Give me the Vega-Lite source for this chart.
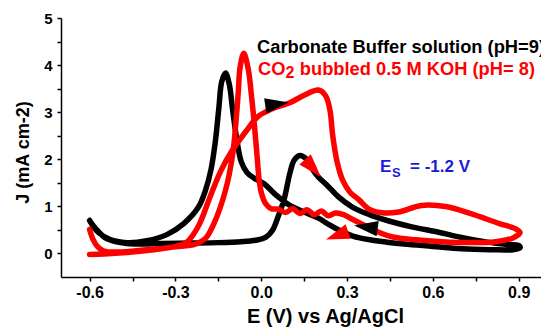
{
  "$schema": "https://vega.github.io/schema/vega-lite/v6.json",
  "width": 480,
  "height": 259,
  "autosize": {"type": "none"},
  "padding": {"left": 61, "top": 18, "right": 0, "bottom": 50},
  "background": "white",
  "config": {
    "view": {"stroke": null},
    "font": "Liberation Sans",
    "axis": {
      "grid": false,
      "domainColor": "black",
      "domainWidth": 1.5,
      "tickColor": "black",
      "tickWidth": 1.5,
      "tickSize": 4,
      "labelFont": "Liberation Sans",
      "labelFontWeight": "bold",
      "labelColor": "black",
      "titleFont": "Liberation Sans",
      "titleFontWeight": "bold",
      "titleColor": "black"
    }
  },
  "datasets": {
    "cv": [
      {"s": "Carbonate", "o": 1, "E": -0.600, "J": 0.70},
      {"s": "Carbonate", "o": 2, "E": -0.575, "J": 0.50},
      {"s": "Carbonate", "o": 3, "E": -0.545, "J": 0.33},
      {"s": "Carbonate", "o": 4, "E": -0.510, "J": 0.25},
      {"s": "Carbonate", "o": 5, "E": -0.470, "J": 0.21},
      {"s": "Carbonate", "o": 6, "E": -0.420, "J": 0.20},
      {"s": "Carbonate", "o": 7, "E": -0.350, "J": 0.21},
      {"s": "Carbonate", "o": 8, "E": -0.250, "J": 0.22},
      {"s": "Carbonate", "o": 9, "E": -0.150, "J": 0.23},
      {"s": "Carbonate", "o": 10, "E": -0.070, "J": 0.25},
      {"s": "Carbonate", "o": 11, "E": -0.020, "J": 0.28},
      {"s": "Carbonate", "o": 12, "E": 0.015, "J": 0.34},
      {"s": "Carbonate", "o": 13, "E": 0.040, "J": 0.50},
      {"s": "Carbonate", "o": 14, "E": 0.060, "J": 0.80},
      {"s": "Carbonate", "o": 15, "E": 0.080, "J": 1.15},
      {"s": "Carbonate", "o": 16, "E": 0.100, "J": 1.70},
      {"s": "Carbonate", "o": 17, "E": 0.115, "J": 1.98},
      {"s": "Carbonate", "o": 18, "E": 0.135, "J": 2.08},
      {"s": "Carbonate", "o": 19, "E": 0.155, "J": 2.02},
      {"s": "Carbonate", "o": 20, "E": 0.175, "J": 1.82},
      {"s": "Carbonate", "o": 21, "E": 0.200, "J": 1.62},
      {"s": "Carbonate", "o": 22, "E": 0.230, "J": 1.45},
      {"s": "Carbonate", "o": 23, "E": 0.270, "J": 1.20},
      {"s": "Carbonate", "o": 24, "E": 0.320, "J": 0.98},
      {"s": "Carbonate", "o": 25, "E": 0.380, "J": 0.82},
      {"s": "Carbonate", "o": 26, "E": 0.440, "J": 0.70},
      {"s": "Carbonate", "o": 27, "E": 0.530, "J": 0.56},
      {"s": "Carbonate", "o": 28, "E": 0.620, "J": 0.45},
      {"s": "Carbonate", "o": 29, "E": 0.700, "J": 0.34},
      {"s": "Carbonate", "o": 30, "E": 0.790, "J": 0.24},
      {"s": "Carbonate", "o": 31, "E": 0.860, "J": 0.19},
      {"s": "Carbonate", "o": 32, "E": 0.900, "J": 0.17},
      {"s": "Carbonate", "o": 33, "E": 0.905, "J": 0.12},
      {"s": "Carbonate", "o": 34, "E": 0.880, "J": 0.08},
      {"s": "Carbonate", "o": 35, "E": 0.800, "J": 0.08},
      {"s": "Carbonate", "o": 36, "E": 0.700, "J": 0.10},
      {"s": "Carbonate", "o": 37, "E": 0.600, "J": 0.15},
      {"s": "Carbonate", "o": 38, "E": 0.500, "J": 0.20},
      {"s": "Carbonate", "o": 39, "E": 0.440, "J": 0.24},
      {"s": "Carbonate", "o": 40, "E": 0.380, "J": 0.29},
      {"s": "Carbonate", "o": 41, "E": 0.320, "J": 0.37},
      {"s": "Carbonate", "o": 42, "E": 0.280, "J": 0.47},
      {"s": "Carbonate", "o": 43, "E": 0.240, "J": 0.60},
      {"s": "Carbonate", "o": 44, "E": 0.200, "J": 0.75},
      {"s": "Carbonate", "o": 45, "E": 0.150, "J": 0.88},
      {"s": "Carbonate", "o": 46, "E": 0.100, "J": 1.02},
      {"s": "Carbonate", "o": 47, "E": 0.050, "J": 1.25},
      {"s": "Carbonate", "o": 48, "E": 0.010, "J": 1.48},
      {"s": "Carbonate", "o": 49, "E": -0.025, "J": 1.60},
      {"s": "Carbonate", "o": 50, "E": -0.050, "J": 1.72},
      {"s": "Carbonate", "o": 51, "E": -0.070, "J": 1.95},
      {"s": "Carbonate", "o": 52, "E": -0.085, "J": 2.40},
      {"s": "Carbonate", "o": 53, "E": -0.100, "J": 3.05},
      {"s": "Carbonate", "o": 54, "E": -0.112, "J": 3.60},
      {"s": "Carbonate", "o": 55, "E": -0.125, "J": 3.83},
      {"s": "Carbonate", "o": 56, "E": -0.138, "J": 3.65},
      {"s": "Carbonate", "o": 57, "E": -0.148, "J": 3.10},
      {"s": "Carbonate", "o": 58, "E": -0.160, "J": 2.40},
      {"s": "Carbonate", "o": 59, "E": -0.175, "J": 1.80},
      {"s": "Carbonate", "o": 60, "E": -0.195, "J": 1.34},
      {"s": "Carbonate", "o": 61, "E": -0.220, "J": 0.98},
      {"s": "Carbonate", "o": 62, "E": -0.270, "J": 0.64},
      {"s": "Carbonate", "o": 63, "E": -0.330, "J": 0.40},
      {"s": "Carbonate", "o": 64, "E": -0.400, "J": 0.27},
      {"s": "Carbonate", "o": 65, "E": -0.470, "J": 0.23},
      {"s": "Carbonate", "o": 66, "E": -0.530, "J": 0.30},
      {"s": "Carbonate", "o": 67, "E": -0.570, "J": 0.45},
      {"s": "Carbonate", "o": 68, "E": -0.600, "J": 0.70},
      {"s": "CO2", "o": 1, "E": -0.600, "J": -0.02},
      {"s": "CO2", "o": 2, "E": -0.550, "J": -0.01},
      {"s": "CO2", "o": 3, "E": -0.470, "J": 0.02},
      {"s": "CO2", "o": 4, "E": -0.400, "J": 0.06},
      {"s": "CO2", "o": 5, "E": -0.350, "J": 0.10},
      {"s": "CO2", "o": 6, "E": -0.300, "J": 0.15},
      {"s": "CO2", "o": 7, "E": -0.265, "J": 0.22},
      {"s": "CO2", "o": 8, "E": -0.240, "J": 0.38},
      {"s": "CO2", "o": 9, "E": -0.214, "J": 0.65},
      {"s": "CO2", "o": 10, "E": -0.179, "J": 1.20},
      {"s": "CO2", "o": 11, "E": -0.140, "J": 1.77},
      {"s": "CO2", "o": 12, "E": -0.100, "J": 2.20},
      {"s": "CO2", "o": 13, "E": -0.050, "J": 2.62},
      {"s": "CO2", "o": 14, "E": -0.013, "J": 2.90},
      {"s": "CO2", "o": 15, "E": 0.020, "J": 3.02},
      {"s": "CO2", "o": 16, "E": 0.060, "J": 3.12},
      {"s": "CO2", "o": 17, "E": 0.100, "J": 3.20},
      {"s": "CO2", "o": 18, "E": 0.150, "J": 3.36},
      {"s": "CO2", "o": 19, "E": 0.200, "J": 3.47},
      {"s": "CO2", "o": 20, "E": 0.225, "J": 3.35},
      {"s": "CO2", "o": 21, "E": 0.240, "J": 3.05},
      {"s": "CO2", "o": 22, "E": 0.250, "J": 2.50},
      {"s": "CO2", "o": 23, "E": 0.265, "J": 1.95},
      {"s": "CO2", "o": 24, "E": 0.285, "J": 1.55},
      {"s": "CO2", "o": 25, "E": 0.310, "J": 1.30},
      {"s": "CO2", "o": 26, "E": 0.340, "J": 1.15},
      {"s": "CO2", "o": 27, "E": 0.380, "J": 0.93},
      {"s": "CO2", "o": 28, "E": 0.430, "J": 0.86},
      {"s": "CO2", "o": 29, "E": 0.480, "J": 0.88},
      {"s": "CO2", "o": 30, "E": 0.560, "J": 1.02},
      {"s": "CO2", "o": 31, "E": 0.650, "J": 0.99},
      {"s": "CO2", "o": 32, "E": 0.730, "J": 0.85},
      {"s": "CO2", "o": 33, "E": 0.830, "J": 0.64},
      {"s": "CO2", "o": 34, "E": 0.890, "J": 0.52},
      {"s": "CO2", "o": 35, "E": 0.905, "J": 0.44},
      {"s": "CO2", "o": 36, "E": 0.880, "J": 0.33},
      {"s": "CO2", "o": 37, "E": 0.820, "J": 0.25},
      {"s": "CO2", "o": 38, "E": 0.730, "J": 0.23},
      {"s": "CO2", "o": 39, "E": 0.630, "J": 0.25},
      {"s": "CO2", "o": 40, "E": 0.540, "J": 0.29},
      {"s": "CO2", "o": 41, "E": 0.460, "J": 0.35},
      {"s": "CO2", "o": 42, "E": 0.410, "J": 0.45},
      {"s": "CO2", "o": 43, "E": 0.360, "J": 0.60},
      {"s": "CO2", "o": 44, "E": 0.320, "J": 0.72},
      {"s": "CO2", "o": 45, "E": 0.290, "J": 0.82},
      {"s": "CO2", "o": 46, "E": 0.260, "J": 0.86},
      {"s": "CO2", "o": 47, "E": 0.235, "J": 0.80},
      {"s": "CO2", "o": 48, "E": 0.210, "J": 0.90},
      {"s": "CO2", "o": 49, "E": 0.185, "J": 0.82},
      {"s": "CO2", "o": 50, "E": 0.160, "J": 0.93},
      {"s": "CO2", "o": 51, "E": 0.135, "J": 0.85},
      {"s": "CO2", "o": 52, "E": 0.110, "J": 0.95},
      {"s": "CO2", "o": 53, "E": 0.085, "J": 0.87},
      {"s": "CO2", "o": 54, "E": 0.060, "J": 0.94},
      {"s": "CO2", "o": 55, "E": 0.035, "J": 0.95},
      {"s": "CO2", "o": 56, "E": 0.015, "J": 1.06},
      {"s": "CO2", "o": 57, "E": 0.000, "J": 1.30},
      {"s": "CO2", "o": 58, "E": -0.008, "J": 1.60},
      {"s": "CO2", "o": 59, "E": -0.015, "J": 2.10},
      {"s": "CO2", "o": 60, "E": -0.025, "J": 2.80},
      {"s": "CO2", "o": 61, "E": -0.035, "J": 3.40},
      {"s": "CO2", "o": 62, "E": -0.045, "J": 3.90},
      {"s": "CO2", "o": 63, "E": -0.061, "J": 4.25},
      {"s": "CO2", "o": 64, "E": -0.074, "J": 3.95},
      {"s": "CO2", "o": 65, "E": -0.080, "J": 3.45},
      {"s": "CO2", "o": 66, "E": -0.087, "J": 2.90},
      {"s": "CO2", "o": 67, "E": -0.100, "J": 2.10},
      {"s": "CO2", "o": 68, "E": -0.125, "J": 1.34},
      {"s": "CO2", "o": 69, "E": -0.165, "J": 0.64},
      {"s": "CO2", "o": 70, "E": -0.195, "J": 0.32},
      {"s": "CO2", "o": 71, "E": -0.230, "J": 0.20},
      {"s": "CO2", "o": 72, "E": -0.300, "J": 0.14},
      {"s": "CO2", "o": 73, "E": -0.400, "J": 0.08},
      {"s": "CO2", "o": 74, "E": -0.500, "J": 0.03},
      {"s": "CO2", "o": 75, "E": -0.550, "J": 0.05},
      {"s": "CO2", "o": 76, "E": -0.573, "J": 0.15},
      {"s": "CO2", "o": 77, "E": -0.588, "J": 0.30},
      {"s": "CO2", "o": 78, "E": -0.600, "J": 0.51}
    ],
    "arrows": [
      {"s": "Carbonate", "E": 0.055, "J": 3.17, "dir": -8},
      {"s": "CO2", "E": 0.181, "J": 1.81, "dir": 48},
      {"s": "CO2", "E": 0.265, "J": 0.38, "dir": 160},
      {"s": "Carbonate", "E": 0.366, "J": 0.56, "dir": 188}
    ],
    "notes": [
      {"t": "Carbonate Buffer solution (pH=9)", "E": -0.0147, "J": 4.257, "g": "Carbonate"},
      {"t": "CO", "E": -0.0112, "J": 3.79, "g": "CO2"},
      {"t": "bubbled 0.5 M KOH (pH= 8)", "E": 0.135, "J": 3.79, "g": "CO2"}
    ],
    "subs": [
      {"t": "2", "E": 0.085, "J": 3.72}
    ],
    "es": [
      {"t": "E", "E": 0.4154, "J": 1.73},
      {"t": "= -1.2 V", "E": 0.52, "J": 1.73}
    ],
    "essub": [
      {"t": "S", "E": 0.4573, "J": 1.62}
    ]
  },
  "encoding": {
    "x": {
      "field": "E", "type": "quantitative",
      "scale": {"domain": [-0.7, 0.978], "nice": false, "zero": false},
      "axis": {
        "values": [-0.6, -0.45, -0.3, -0.15, 0, 0.15, 0.3, 0.45, 0.6, 0.75, 0.9],
        "format": ".1f",
        "labelExpr": "indexof(['-0.6','-0.3','0.0','0.3','0.6','0.9'], replace(datum.label,'\u2212','-')) >= 0 ? replace(datum.label,'\u2212','-') : ''",
        "labelFontSize": 16,
        "labelPadding": 3,
        "labelFlush": false,
        "labelOverlap": false,
        "title": "E (V) vs Ag/AgCl",
        "titleFontSize": 20,
        "titleX": 264,
        "titleY": 45,
        "titleAlign": "center",
        "titleBaseline": "alphabetic",
        "titleAnchor": null
      }
    },
    "y": {
      "field": "J", "type": "quantitative",
      "scale": {"domain": [-0.5, 5], "nice": false, "zero": false},
      "axis": {
        "values": [0, 0.5, 1, 1.5, 2, 2.5, 3, 3.5, 4, 4.5, 5],
        "format": ".1f",
        "labelExpr": "datum.value % 1 == 0 ? format(datum.value, 'd') : ''",
        "labelFontSize": 15,
        "labelPadding": 5,
        "labelFlush": false,
        "labelOverlap": false,
        "title": "J (mA cm-2)",
        "titleFontSize": 18,
        "titleAngle": -90,
        "titleX": -38,
        "titleY": 134,
        "titleAlign": "center",
        "titleBaseline": "middle"
      }
    }
  },
  "layer": [
    {
      "mark": {"type": "rule", "color": "black", "strokeWidth": 1.5},
      "encoding": {"y": {"datum": 5}, "x": null}
    },
    {
      "data": {"name": "cv"},
      "transform": [{"filter": "datum.s === 'Carbonate'"}],
      "mark": {"type": "line", "color": "black", "strokeWidth": 5.5, "interpolate": "catmull-rom", "strokeCap": "round", "strokeJoin": "round"},
      "encoding": {"order": {"field": "o", "type": "quantitative"}}
    },
    {
      "data": {"name": "cv"},
      "transform": [{"filter": "datum.s === 'CO2'"}],
      "mark": {"type": "line", "color": "#ff0000", "strokeWidth": 5.5, "interpolate": "catmull-rom", "strokeCap": "round", "strokeJoin": "round"},
      "encoding": {"order": {"field": "o", "type": "quantitative"}}
    },
    {
      "data": {"name": "arrows"},
      "mark": {"type": "point", "filled": true, "opacity": 1, "shape": "M -1 -0.65 L 1 0 L -1 0.65 Z", "size": 560},
      "encoding": {
        "angle": {"field": "dir", "type": "quantitative", "scale": null},
        "color": {"field": "s", "type": "nominal", "scale": {"domain": ["Carbonate", "CO2"], "range": ["black", "#ff0000"]}, "legend": null}
      }
    },
    {
      "data": {"name": "notes"},
      "mark": {"type": "text", "align": "left", "baseline": "alphabetic", "fontSize": 18.3, "fontWeight": "bold", "font": "Liberation Sans"},
      "encoding": {
        "text": {"field": "t"},
        "color": {"field": "g", "type": "nominal", "scale": {"domain": ["Carbonate", "CO2"], "range": ["black", "#ff0000"]}, "legend": null}
      }
    },
    {
      "data": {"name": "subs"},
      "mark": {"type": "text", "align": "left", "baseline": "alphabetic", "fontSize": 16, "fontWeight": "bold", "font": "Liberation Sans", "color": "#ff0000"},
      "encoding": {"text": {"field": "t"}}
    },
    {
      "data": {"name": "es"},
      "mark": {"type": "text", "align": "left", "baseline": "alphabetic", "fontSize": 17, "fontWeight": "bold", "font": "Liberation Sans", "color": "#1c1cd8"},
      "encoding": {"text": {"field": "t"}}
    },
    {
      "data": {"name": "essub"},
      "mark": {"type": "text", "align": "left", "baseline": "alphabetic", "fontSize": 13, "fontWeight": "bold", "font": "Liberation Sans", "color": "#1c1cd8"},
      "encoding": {"text": {"field": "t"}}
    }
  ]
}
